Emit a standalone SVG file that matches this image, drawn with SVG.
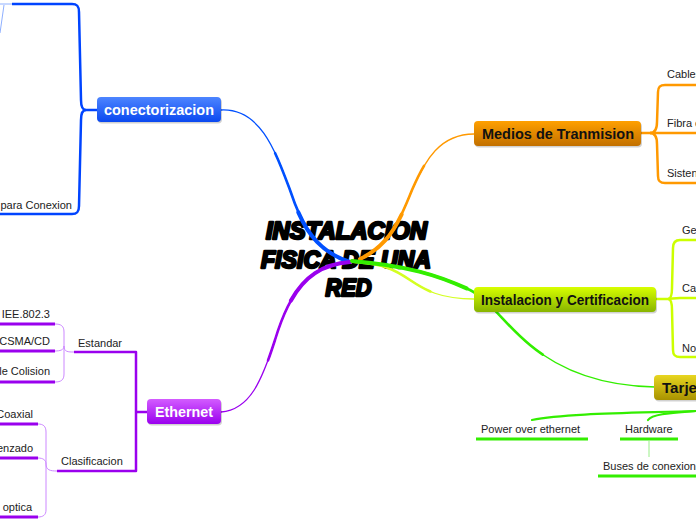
<svg xmlns="http://www.w3.org/2000/svg" width="696" height="520" viewBox="0 0 696 520">
<defs>
<linearGradient id="gBlue" x1="0" y1="0" x2="0" y2="1"><stop offset="0" stop-color="#4d85ff"/><stop offset="1" stop-color="#0a48f0"/></linearGradient>
<linearGradient id="gOrange" x1="0" y1="0" x2="0" y2="1"><stop offset="0" stop-color="#ffa000"/><stop offset="1" stop-color="#c27000"/></linearGradient>
<linearGradient id="gLime" x1="0" y1="0" x2="0" y2="1"><stop offset="0" stop-color="#d8ff00"/><stop offset="1" stop-color="#88b400"/></linearGradient>
<linearGradient id="gOlive" x1="0" y1="0" x2="0" y2="1"><stop offset="0" stop-color="#e8d620"/><stop offset="1" stop-color="#a89200"/></linearGradient>
<linearGradient id="gPurple" x1="0" y1="0" x2="0" y2="1"><stop offset="0" stop-color="#d35cff"/><stop offset="1" stop-color="#9a00ee"/></linearGradient>
<path id="cBlue" pathLength="100" d="M221,110 C260,108 275,150 290,190 C300,220 312,250 350,262"/>
<path id="cPurple" pathLength="100" d="M221,412 C250,410 262,380 275,340 C290,290 310,265 350,262"/>
<path id="cOrange" pathLength="100" d="M474,134 C440,134 425,160 412,190 C400,220 390,245 360,259"/>
<path id="cLime" pathLength="100" d="M474,299 C440,299 425,290 410,280 C395,270 385,264 355,262"/>
<path id="cGreen" pathLength="100" d="M655,387 C600,386 560,370 530,345 C505,325 490,300 470,290 C440,276 410,266 352,261"/>
</defs>
<style>
.box{stroke:none}
.shadow{fill:#000;opacity:0.18}
.nt{font-family:"Liberation Sans",Arial,sans-serif;font-weight:bold;font-size:14px}
.lbl{font-family:"Liberation Sans",Arial,sans-serif;font-size:11px;fill:#222}
.title{font-family:"Liberation Sans",Arial,sans-serif;font-weight:900;font-style:italic;font-size:23px;fill:#000;stroke:#000;stroke-width:2.4;stroke-linejoin:round;text-anchor:middle}
.c{fill:none;stroke-linecap:round}
.t1{stroke-width:1.3}
.t2{stroke-width:2.6;stroke-dasharray:65 100;stroke-dashoffset:-35}
.t3{stroke-width:4;stroke-dasharray:35 100;stroke-dashoffset:-65}
.br{fill:none;stroke-width:2.5;stroke-linejoin:round}
.thin{fill:none;stroke-width:1}
</style>
<rect width="696" height="520" fill="#fff"/>

<g id="title">
<text class="title" x="346.5" y="239" textLength="161" lengthAdjust="spacingAndGlyphs">INSTALACION</text>
<text class="title" x="346" y="268" textLength="170" lengthAdjust="spacingAndGlyphs">FISICA DE UNA</text>
<text class="title" x="348.5" y="296" textLength="46" lengthAdjust="spacingAndGlyphs">RED</text>
</g>

<g id="connectors">
<g stroke="#0050ff"><use href="#cBlue" class="c t1"/><use href="#cBlue" class="c t2"/><use href="#cBlue" class="c t3"/></g>
<g stroke="#9a00ee"><use href="#cPurple" class="c t1"/><use href="#cPurple" class="c t2"/><use href="#cPurple" class="c t3"/></g>
<g stroke="#ff9900"><use href="#cOrange" class="c t1"/><use href="#cOrange" class="c t2"/><use href="#cOrange" class="c t3"/></g>
<g stroke="#d4ff22"><use href="#cLime" class="c t1"/><use href="#cLime" class="c t2"/></g>
<g stroke="#33ee00"><use href="#cGreen" class="c t1"/><use href="#cGreen" class="c t2"/><use href="#cGreen" class="c t3"/></g>

<path class="br" stroke="#0044ff" d="M97,110 L86,110 C82,110 81,106 81,100 L79,12 C79,6 77,4 72,4 L12,4"/>
<path class="br" stroke="#0044ff" d="M86,110 C82,110 81,114 81,120 L79,206 C79,212 77,214 72,214 L0,214"/>
<path class="thin" stroke="#8fb0ff" stroke-width="1.5" d="M0,4 L12,4"/>
<path class="thin" stroke="#8fb0ff" d="M4,5 C3,14 1,24 0,33"/>

<path class="br" stroke="#ff9900" d="M641,133 L696,133"/>
<path class="br" stroke="#ff9900" d="M650,133 C656,133 657,128 657,122 L658,92 C658,87 660,85 665,85 L696,85"/>
<path class="br" stroke="#ff9900" d="M650,133 C656,133 657,138 657,144 L658,176 C658,181 660,183 665,183 L696,183"/>

<path class="br" stroke="#ccff00" d="M656,299 L668,299 C672,299 674,298 680,298 L696,298"/>
<path class="br" stroke="#ccff00" d="M668,299 C671,299 672,294 672,288 L673,248 C673,243 675,240 680,240 L696,240"/>
<path class="br" stroke="#ccff00" d="M668,299 C671,299 672,304 672,310 L673,350 C673,355 675,357 680,357 L696,357"/>

<path fill="none" stroke="#33ee00" stroke-width="2.2" stroke-linecap="round" d="M696,411 C640,413 565,413 532,420"/>
<path fill="none" stroke="#33ee00" stroke-width="2.2" stroke-linecap="round" d="M696,411 C670,413 652,414 648,420"/>
<path fill="none" stroke="#33ee00" stroke-width="3" d="M476,439 L588,439 M620,439 L678,439 M598,476 L696,476"/>
<path class="thin" stroke="#99ee88" d="M649,440 L649,457"/>

<path class="br" stroke="#9a00ee" d="M147,412 L136,412"/>
<path class="br" stroke="#9a00ee" d="M74,352 L136,352 L136,471 L57,471"/>
<path class="thin" stroke="#cc88ff" d="M74,352 C68,352 64,352 64,346 L64,332 C64,326 61,324 55,324"/>
<path class="thin" stroke="#cc88ff" d="M64,346 C64,350 60,351 55,351"/>
<path class="thin" stroke="#cc88ff" d="M64,346 L64,374 C64,380 61,382 55,382"/>
<path fill="none" stroke="#9a00ee" stroke-width="3" d="M0,324 L55,324 M0,351 L55,351 M0,382 L55,382"/>
<path class="thin" stroke="#cc88ff" d="M57,471 C50,471 46,470 46,464 L46,432 C46,426 43,424 38,424"/>
<path class="thin" stroke="#cc88ff" d="M46,464 C46,460 43,458 38,458"/>
<path class="thin" stroke="#cc88ff" d="M46,464 L46,510 C46,515 43,517 38,517"/>
<path fill="none" stroke="#9a00ee" stroke-width="3" d="M0,424 L38,424 M0,458 L38,458 M0,517 L38,517"/>
</g>

<g id="conectorizacion">
<rect class="shadow" x="98" y="98.5" width="124" height="25" rx="4"/>
<rect class="box" x="97" y="97" width="124" height="25" rx="4" fill="url(#gBlue)"/>
<text class="nt" x="159" y="115" text-anchor="middle" fill="#fff" textLength="110" lengthAdjust="spacingAndGlyphs">conectorizacion</text>
</g>
<g id="para-conexion"><text class="lbl" x="72" y="209" text-anchor="end">para Conexion</text></g>

<g id="medios">
<rect class="shadow" x="475" y="122.5" width="167" height="25" rx="4"/>
<rect class="box" x="474" y="121" width="167" height="25" rx="4" fill="url(#gOrange)"/>
<text class="nt" x="558" y="139" text-anchor="middle" fill="#111" textLength="152" lengthAdjust="spacingAndGlyphs">Medios de Tranmision</text>
</g>
<g id="cables"><text class="lbl" x="667" y="78">Cables</text></g>
<g id="fibra"><text class="lbl" x="667" y="127">Fibra o</text></g>
<g id="sisten"><text class="lbl" x="667" y="177">Sisten</text></g>

<g id="instalacion">
<rect class="shadow" x="475" y="288.5" width="182" height="25" rx="4"/>
<rect class="box" x="474" y="287" width="182" height="25" rx="4" fill="url(#gLime)"/>
<text class="nt" x="565" y="305" text-anchor="middle" fill="#111" textLength="168" lengthAdjust="spacingAndGlyphs">Instalacion y Certificacion</text>
</g>
<g id="ges"><text class="lbl" x="682" y="234">Ges</text></g>
<g id="cal"><text class="lbl" x="682" y="292">Cal</text></g>
<g id="nor"><text class="lbl" x="682" y="352">Nor</text></g>

<g id="tarjeta">
<rect class="shadow" x="655" y="376.5" width="50" height="25" rx="4"/>
<rect class="box" x="654" y="375" width="50" height="25" rx="4" fill="url(#gOlive)"/>
<text class="nt" x="662" y="393" fill="#111" textLength="35" lengthAdjust="spacingAndGlyphs">Tarje</text>
</g>
<g id="power"><text class="lbl" x="481" y="433">Power over ethernet</text></g>
<g id="hardware"><text class="lbl" x="625" y="433">Hardware</text></g>
<g id="buses"><text class="lbl" x="603" y="470">Buses de conexion</text></g>

<g id="ethernet">
<rect class="shadow" x="148" y="400.5" width="74" height="25" rx="4"/>
<rect class="box" x="147" y="399" width="74" height="25" rx="4" fill="url(#gPurple)"/>
<text class="nt" x="184" y="417" text-anchor="middle" fill="#fff" textLength="58" lengthAdjust="spacingAndGlyphs">Ethernet</text>
</g>
<g id="estandar"><text class="lbl" x="78" y="347">Estandar</text></g>
<g id="clasificacion"><text class="lbl" x="61" y="465">Clasificacion</text></g>
<g id="iee"><text class="lbl" x="50" y="318" text-anchor="end">IEE.802.3</text></g>
<g id="csma"><text class="lbl" x="50" y="345" text-anchor="end">CSMA/CD</text></g>
<g id="colision"><text class="lbl" x="50" y="375" text-anchor="end">le Colision</text></g>
<g id="coaxial"><text class="lbl" x="33" y="418" text-anchor="end">Coaxial</text></g>
<g id="trenzado"><text class="lbl" x="33" y="452" text-anchor="end">enzado</text></g>
<g id="optica"><text class="lbl" x="32" y="511" text-anchor="end">optica</text></g>
</svg>
